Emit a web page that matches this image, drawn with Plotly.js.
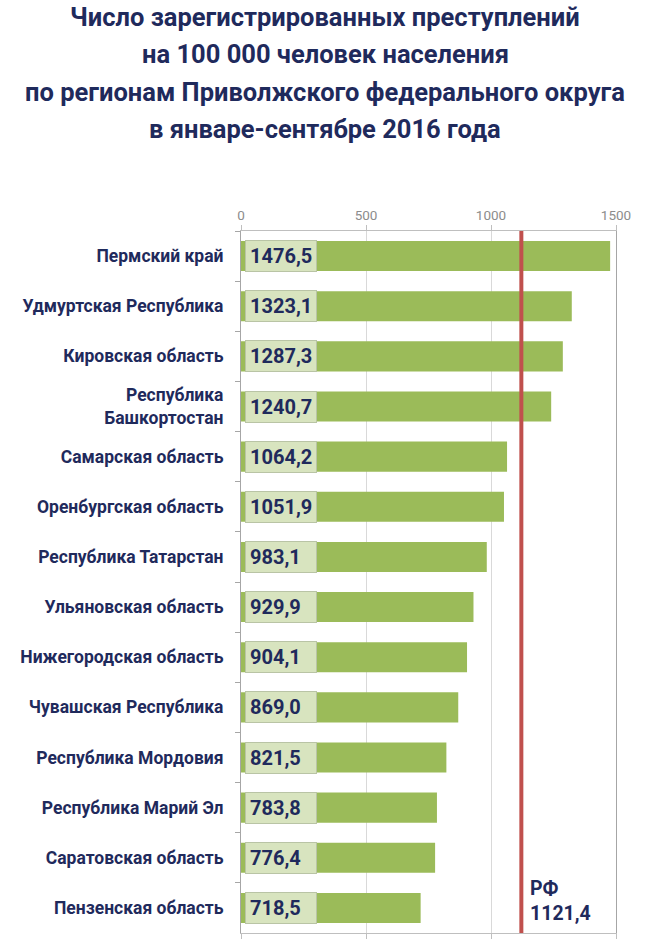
<!DOCTYPE html>
<html><head><meta charset="utf-8">
<script src="https://cdn.plot.ly/plotly-3.0.1.min.js"></script>
<style>html,body{margin:0;padding:0;background:#fff}#chart{width:650px;height:948px}</style>
</head><body><div id="chart"></div>
<script>
const titleLines = [
  "Число зарегистрированных преступлений",
  "на 100 000 человек населения",
  "по регионам Приволжского федерального округа",
  "в январе-сентябре 2016 года"
];
const regions = [
  "Пермский край",
  "Удмуртская Республика",
  "Кировская область",
  "Республика<br>Башкортостан",
  "Самарская область",
  "Оренбургская область",
  "Республика Татарстан",
  "Ульяновская область",
  "Нижегородская область",
  "Чувашская Республика",
  "Республика Мордовия",
  "Республика Марий Эл",
  "Саратовская область",
  "Пензенская область"
];
const values = [1476.5, 1323.1, 1287.3, 1240.7, 1064.2, 1051.9, 983.1, 929.9, 904.1, 869.0, 821.5, 783.8, 776.4, 718.5];
const rfLabel = "РФ";
const rfValue = 1121.4;
const xTicks = [0, 500, 1000, 1500];

const navy = "#1f2a5c";
const fam = "Roboto, 'Noto Sans', sans-serif";
const fmt = v => v.toFixed(1).replace(".", ",");

const traces = [{
  type: "bar", orientation: "h",
  x: values, y: regions,
  marker: {color: "#9bbb59"},
  width: 0.6,
  hoverinfo: "skip"
}];

const annotations = [];
titleLines.forEach((t, i) => {
  annotations.push({
    xref: "paper", yref: "paper", x: (325 - 241) / 375, y: 1,
    yanchor: "middle", xanchor: "center",
    yshift: 231 - 17 - i * 37.3,
    text: t, showarrow: false,
    font: {family: fam, size: 25.5, color: navy, weight: 700}
  });
});
values.forEach((v, i) => {
  annotations.push({
    xref: "x", yref: "y", x: 0, y: regions[i],
    xanchor: "left", yanchor: "middle", xshift: 4,
    text: "<b>" + fmt(v) + "</b>", showarrow: false,
    bgcolor: "#d8e4bf", bordercolor: "#b9c4a5", borderwidth: 1,
    width: 62, height: 22, align: "left", borderpad: 4,
    font: {family: fam, size: 20, color: navy}
  });
});
annotations.push({
  xref: "x", yref: "paper", x: rfValue, y: 0,
  xanchor: "left", yanchor: "bottom", xshift: 7, yshift: 6,
  text: "<b>" + rfLabel + "<br>" + fmt(rfValue) + "</b>", showarrow: false, align: "left",
  font: {family: fam, size: 19.5, color: navy}
});

const layout = {
  width: 650, height: 948,
  margin: {l: 241, r: 34, t: 231, b: 15},
  paper_bgcolor: "#fff", plot_bgcolor: "#fff",
  showlegend: false,
  font: {family: fam, color: navy},
  xaxis: {
    side: "top", range: [0, 1500], tickvals: xTicks, ticktext: xTicks.map(String),
    showgrid: true, gridcolor: "#d9d9d9", gridwidth: 1,
    showline: true, linecolor: "#bfbfbf", linewidth: 1, mirror: "allticks",
    ticks: "outside", ticklen: 5, tickcolor: "#bfbfbf",
    tickfont: {size: 13.5, color: "#8c8c8c"}, zeroline: false, fixedrange: true
  },
  yaxis: {
    type: "category", autorange: "reversed",
    tickson: "boundaries", ticks: "outside", ticklen: 5, tickcolor: "#a6a6a6",
    showgrid: false, showline: true, linecolor: "#a6a6a6", linewidth: 1, mirror: true,
    ticklabelstandoff: 13,
    tickfont: {size: 17.5, color: navy, weight: 700}, fixedrange: true
  },
  shapes: [{
    type: "line", xref: "x", yref: "paper", x0: rfValue, x1: rfValue, y0: 0, y1: 1,
    line: {color: "#c0504d", width: 4}
  }],
  annotations: annotations
};
Plotly.newPlot("chart", traces, layout, {displayModeBar: false, staticPlot: true});
</script></body></html>
